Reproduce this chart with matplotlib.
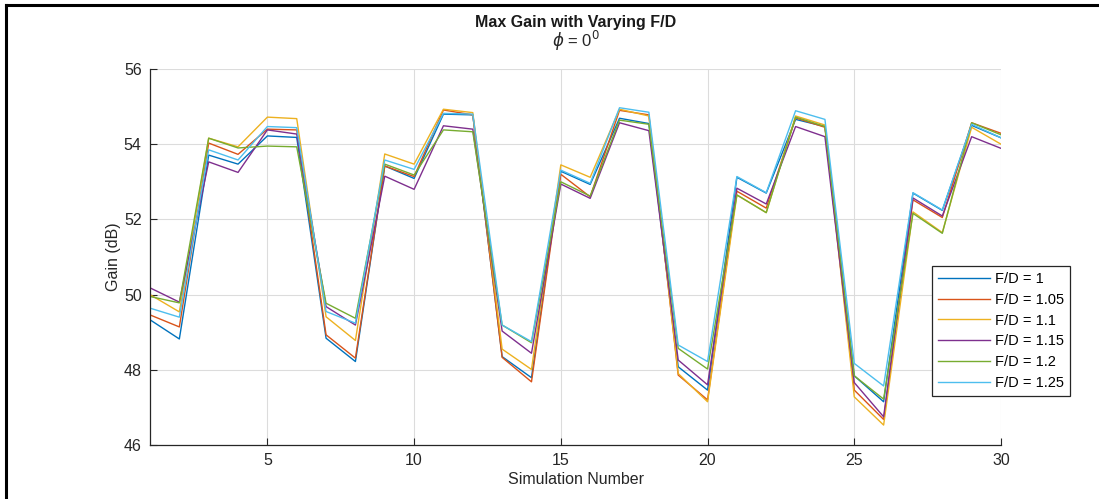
import matplotlib.pyplot as plt
from matplotlib.lines import Line2D

plt.rcParams['font.family'] = ['Liberation Sans', 'DejaVu Sans']
plt.rcParams['mathtext.fontset'] = 'dejavusans'

sim = list(range(1, 31))

gain_100 = [49.33, 48.82, 53.71, 53.47, 54.22, 54.18, 48.84, 48.22, 53.42, 53.09,
            54.80, 54.78, 48.35, 47.79, 53.28, 52.93, 54.69, 54.55, 48.08, 47.46,
            53.12, 52.70, 54.66, 54.47, 47.84, 47.15, 52.70, 52.24, 54.50, 54.17]
gain_105 = [49.46, 49.14, 54.03, 53.73, 54.40, 54.38, 48.93, 48.31, 53.42, 53.14,
            54.91, 54.78, 48.33, 47.68, 53.20, 52.60, 54.90, 54.78, 47.86, 47.20,
            52.75, 52.30, 54.70, 54.45, 47.46, 46.68, 52.52, 52.05, 54.57, 54.29]
gain_110 = [50.00, 49.54, 54.16, 53.93, 54.72, 54.68, 49.41, 48.78, 53.74, 53.47,
            54.93, 54.84, 48.55, 48.01, 53.45, 53.12, 54.93, 54.75, 47.90, 47.15,
            52.65, 52.18, 54.75, 54.51, 47.28, 46.53, 52.20, 51.65, 54.45, 54.00]
gain_115 = [50.18, 49.80, 53.53, 53.25, 54.38, 54.27, 49.68, 49.19, 53.15, 52.80,
            54.49, 54.40, 49.03, 48.44, 52.94, 52.56, 54.57, 54.36, 48.26, 47.60,
            52.83, 52.41, 54.47, 54.20, 47.66, 46.75, 52.57, 52.09, 54.20, 53.89]
gain_120 = [49.95, 49.78, 54.16, 53.90, 53.95, 53.93, 49.77, 49.37, 53.47, 53.18,
            54.38, 54.33, 49.19, 48.72, 53.00, 52.62, 54.64, 54.53, 48.57, 48.02,
            52.65, 52.18, 54.72, 54.47, 47.84, 47.22, 52.16, 51.63, 54.57, 54.25]
gain_125 = [49.64, 49.40, 53.85, 53.58, 54.47, 54.44, 49.55, 49.24, 53.58, 53.33,
            54.82, 54.80, 49.19, 48.75, 53.31, 52.96, 54.97, 54.85, 48.66, 48.22,
            53.14, 52.71, 54.89, 54.66, 48.17, 47.57, 52.71, 52.25, 54.53, 54.17]

labels = ['F/D = 1', 'F/D = 1.05', 'F/D = 1.1', 'F/D = 1.15', 'F/D = 1.2', 'F/D = 1.25']
series = [gain_100, gain_105, gain_110, gain_115, gain_120, gain_125]
colors = ['#0072BD', '#D95319', '#EDB120', '#7E2F8E', '#77AC30', '#4DBEEE']

W, H = 1099, 499
fig = plt.figure(figsize=(W / 100, H / 100), dpi=100)
ax = fig.add_axes([150 / W, 1 - 445 / H, (1001 - 150) / W, (445 - 69) / H])

for vals, lab, c in zip(series, labels, colors):
    ax.plot(sim, vals, color=c, lw=1.0, label=lab)

ax.set_xlim(1, 30)
ax.set_ylim(46, 56)
ax.set_xticks([5, 10, 15, 20, 25, 30])
ax.set_yticks([46, 48, 50, 52, 54, 56])
ax.grid(True, color='#dcdcdc', lw=0.8)
ax.set_axisbelow(True)
for s in ['top', 'right']:
    ax.spines[s].set_visible(False)
for s in ['left', 'bottom']:
    ax.spines[s].set_color('#262626')
    ax.spines[s].set_linewidth(0.9)
ax.tick_params(direction='in', length=5, colors='#262626', labelsize=11.5, pad=6)

ax.set_xlabel('Simulation Number', fontsize=11.5, color='#262626', labelpad=3)
ax.set_ylabel('Gain (dB)', fontsize=11.5, color='#262626', labelpad=2)

cx = (150 + 1001) / 2 / W
fig.text(cx, 1 - 22 / H, 'Max Gain with Varying F/D', ha='center', va='center',
         fontsize=11.5, fontweight='bold', color='#1a1a1a')
fig.text(cx, 1 - 41 / H, r'$\phi$ = 0$^0$', ha='center', va='center',
         fontsize=12, color='#262626')

leg = ax.legend(loc='upper left', bbox_to_anchor=(932 / W, 1 - 266 / H),
                bbox_transform=fig.transFigure, fontsize=10.5, fancybox=False,
                framealpha=1, edgecolor='#262626', handlelength=3.6,
                labelspacing=0.47, borderpad=0.4, handletextpad=0.3,
                borderaxespad=0)
leg.get_frame().set_linewidth(0.9)

# frame around the figure
fig.add_artist(Line2D([6 / W, 6 / W], [0, 1 - 5 / H], color='black', lw=2.2,
                      transform=fig.transFigure))
fig.add_artist(Line2D([6 / W, 1], [1 - 5 / H, 1 - 5 / H], color='black', lw=2.2,
                      transform=fig.transFigure))

fig.savefig('out.png', dpi=100)
